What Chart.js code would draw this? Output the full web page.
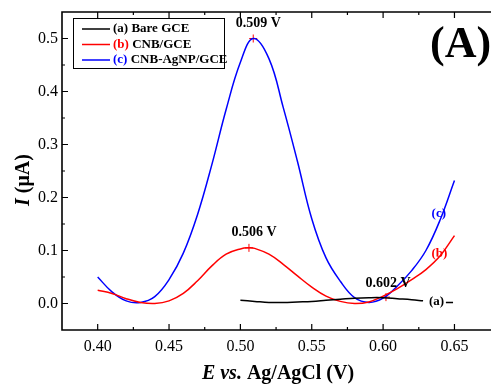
<!DOCTYPE html>
<html>
<head>
<meta charset="utf-8">
<script src="https://cdn.jsdelivr.net/npm/chart.js@4/dist/chart.umd.min.js"></script>
<style>
  html,body{margin:0;padding:0;background:#fff;}
  canvas{display:block;}
</style>
</head>
<body>
<canvas id="dpvChart" width="494" height="387"></canvas>
<script>
// series (E in V, I in uA)
var seriesNames=["Bare GCE","CNB/GCE","CNB-AgNP/GCE"];
var seriesTags=["(a)","(b)","(c)"];
var seriesColors=["#000000","#ff0000","#0000ff"];

var bareE=[0.500,0.510,0.520,0.530,0.540,0.550,0.560,0.570,0.580,0.590,0.600,0.610,0.620,0.628,0.636,0.644,0.649];
var bareI=[0.006,0.004,0.002,0.002,0.003,0.004,0.006,0.008,0.010,0.011,0.011,0.009,0.007,0.005,null,0.002,0.002];

var cnbE=[0.400,0.410,0.420,0.430,0.440,0.450,0.460,0.470,0.480,0.490,0.500,0.506,0.510,0.520,0.530,0.540,0.550,0.560,0.570,0.580,0.590,0.600,0.610,0.620,0.630,0.640,0.650];
var cnbI=[0.025,0.019,0.009,0.002,0.000,0.005,0.019,0.043,0.071,0.093,0.103,0.105,0.104,0.093,0.074,0.052,0.031,0.014,0.004,0.000,0.003,0.014,0.028,0.045,0.064,0.090,0.128];

var agE=[0.400,0.410,0.420,0.430,0.440,0.450,0.460,0.470,0.480,0.490,0.500,0.509,0.520,0.530,0.540,0.550,0.560,0.570,0.580,0.590,0.600,0.610,0.620,0.630,0.640,0.650];
var agI=[0.050,0.022,0.005,0.002,0.013,0.045,0.095,0.168,0.262,0.366,0.455,0.500,0.462,0.370,0.268,0.160,0.086,0.042,0.011,0.002,0.010,0.033,0.062,0.100,0.158,0.232];

// peak markers
var peakE=[0.509,0.506,0.602];
var peakI=[0.500,0.105,0.012];
var peakLabels=["0.509 V","0.506 V","0.602 V"];

var xTicks=[0.40,0.45,0.50,0.55,0.60,0.65];
var xTickLabels=["0.40","0.45","0.50","0.55","0.60","0.65"];
var yTicks=[0.0,0.1,0.2,0.3,0.4,0.5];
var yTickLabels=["0.0","0.1","0.2","0.3","0.4","0.5"];

function toPoints(xs,ys){
  var pts=[];
  for(var i=0;i<xs.length;i++){ pts.push({x:xs[i],y:ys[i]}); }
  return pts;
}

var SERIF='"Liberation Serif","DejaVu Serif",serif';

var framePlugin={
  id:'frame',
  afterDraw:function(chart){
    var ctx=chart.ctx, a=chart.chartArea;
    var xs=chart.scales.x, ys=chart.scales.y;
    ctx.save();
    // frame (right side is cut off)
    ctx.strokeStyle='#000';
    ctx.lineWidth=1.6;
    ctx.beginPath();
    ctx.moveTo(a.right+2,a.top);
    ctx.lineTo(a.left,a.top);
    ctx.lineTo(a.left,a.bottom);
    ctx.lineTo(a.right+2,a.bottom);
    ctx.stroke();

    // ticks, inward
    ctx.lineWidth=1.2;
    ctx.beginPath();
    xTicks.forEach(function(v){
      var px=xs.getPixelForValue(v);
      ctx.moveTo(px,a.bottom);ctx.lineTo(px,a.bottom-6);
      ctx.moveTo(px,a.top);ctx.lineTo(px,a.top+6);
      var m=xs.getPixelForValue(v+0.025);
      if(m<a.right){
        ctx.moveTo(m,a.bottom);ctx.lineTo(m,a.bottom-3);
        ctx.moveTo(m,a.top);ctx.lineTo(m,a.top+3);
      }
    });
    yTicks.forEach(function(v){
      var py=ys.getPixelForValue(v);
      ctx.moveTo(a.left,py);ctx.lineTo(a.left+6,py);
      var m=ys.getPixelForValue(v+0.05);
      if(m>a.top){ ctx.moveTo(a.left,m);ctx.lineTo(a.left+3,m); }
    });
    ctx.stroke();

    // tick labels
    ctx.fillStyle='#000';
    ctx.font='16px '+SERIF;
    ctx.textAlign='center';ctx.textBaseline='middle';
    xTicks.forEach(function(v,i){
      ctx.fillText(xTickLabels[i],xs.getPixelForValue(v),a.bottom+17);
    });
    ctx.textAlign='right';
    yTicks.forEach(function(v,i){
      ctx.fillText(yTickLabels[i],a.left-4,ys.getPixelForValue(v));
    });

    // x title
    ctx.textBaseline='alphabetic';
    var parts=[['bold italic 20px ','E '],['bold italic 20px ','vs. '],['bold 20px ','Ag/AgCl (V)']];
    var w=0;
    parts.forEach(function(p){ctx.font=p[0]+SERIF; w+=ctx.measureText(p[1]).width;});
    var x0=278-w/2;
    ctx.textAlign='left';
    parts.forEach(function(p){ctx.font=p[0]+SERIF; ctx.fillText(p[1],x0,379); x0+=ctx.measureText(p[1]).width;});

    // y title
    ctx.save();
    ctx.translate(29,180);
    ctx.rotate(-Math.PI/2);
    var yp=[['bold italic 20px ','I '],['bold 20px ','(\u03bcA)']];
    w=0;
    yp.forEach(function(p){ctx.font=p[0]+SERIF; w+=ctx.measureText(p[1]).width;});
    x0=-w/2;
    yp.forEach(function(p){ctx.font=p[0]+SERIF; ctx.fillText(p[1],x0,0); x0+=ctx.measureText(p[1]).width;});
    ctx.restore();

    // peak labels
    ctx.font='bold 14px '+SERIF;
    ctx.textAlign='center';ctx.textBaseline='middle';
    var offs=[[5,-15],[5,-15],[2,-14]];
    peakE.forEach(function(e,i){
      ctx.fillText(peakLabels[i],xs.getPixelForValue(e)+offs[i][0],ys.getPixelForValue(peakI[i])+offs[i][1]);
    });

    // curve tags
    ctx.font='bold 13px '+SERIF;
    var tagPos=[[0.6375,0.004],[0.6395,0.095],[0.639,0.170]];
    tagPos.forEach(function(p,i){
      ctx.fillStyle=seriesColors[i];
      ctx.fillText(seriesTags[i],xs.getPixelForValue(p[0]),ys.getPixelForValue(p[1]));
    });

    // legend
    ctx.fillStyle='#fff';
    ctx.fillRect(73,18,152,50);
    ctx.strokeStyle='#000';ctx.lineWidth=1;
    ctx.strokeRect(73.5,18.5,151,50);
    ctx.font='bold 13px '+SERIF;
    ctx.textAlign='left';
    seriesNames.forEach(function(n,i){
      var ly=29+i*15.5;
      ctx.strokeStyle=seriesColors[i];ctx.lineWidth=1.5;
      ctx.beginPath();ctx.moveTo(82,ly);ctx.lineTo(110,ly);ctx.stroke();
      ctx.fillStyle=seriesColors[i];
      ctx.fillText(seriesTags[i],113,ly);
      var tw=ctx.measureText(seriesTags[i]+' ').width;
      ctx.fillStyle='#000';
      ctx.fillText(n,113+tw,ly);
    });

    // panel label
    ctx.font='bold 44px '+SERIF;
    ctx.textBaseline='alphabetic';
    ctx.fillStyle='#000';
    ctx.fillText('(A)',430,57);
    ctx.restore();
  }
};

var ctx=document.getElementById('dpvChart');
var dpvChart=new Chart(ctx,{
  type:'line',
  data:{
    datasets:[
      {label:seriesNames[0],data:toPoints(bareE,bareI),borderColor:seriesColors[0],borderWidth:1.5,pointRadius:0,tension:0.4,spanGaps:false,fill:false},
      {label:seriesNames[1],data:toPoints(cnbE,cnbI),borderColor:seriesColors[1],borderWidth:1.5,pointRadius:0,tension:0.4,fill:false},
      {label:seriesNames[2],data:toPoints(agE,agI),borderColor:seriesColors[2],borderWidth:1.5,pointRadius:0,tension:0.4,fill:false},
      {label:'peaks',data:toPoints(peakE,peakI),showLine:false,pointStyle:'cross',pointRadius:4,borderColor:'#ff0000',pointBorderWidth:1,backgroundColor:'#ff0000'}
    ]
  },
  options:{
    responsive:false,
    animation:false,
    devicePixelRatio:1,
    layout:{padding:{left:62,top:12,right:0,bottom:57}},
    plugins:{legend:{display:false},tooltip:{enabled:false}},
    scales:{
      x:{type:'linear',min:0.375,max:0.6742,display:false},
      y:{type:'linear',min:-0.05,max:0.55,display:false}
    }
  },
  plugins:[framePlugin]
});
</script>
</body>
</html>
